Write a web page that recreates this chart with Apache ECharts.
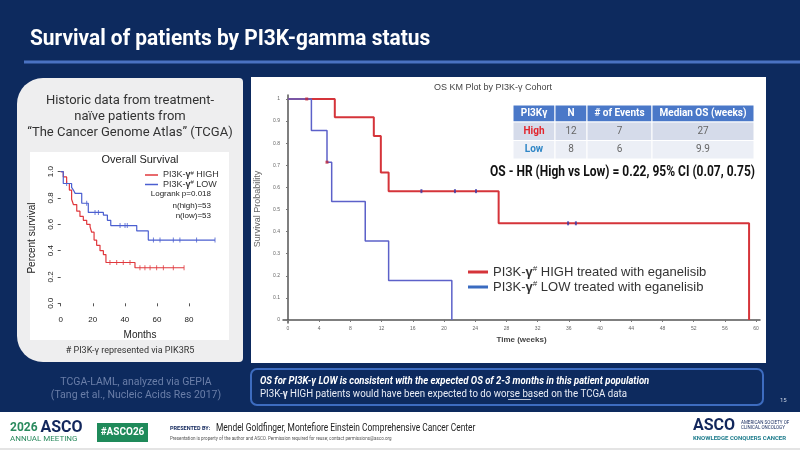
<!DOCTYPE html>
<html>
<head>
<meta charset="utf-8">
<script src="https://cdn.jsdelivr.net/npm/echarts@6/dist/echarts.min.js"></script>
<style>
  html, body { margin: 0; padding: 0; background: #0d2a5e; }
  #chart { width: 800px; height: 453px; }
</style>
</head>
<body>
<div id="chart"></div>
<script>
// eganelisib cohort, KM steps (weeks -> survival probability)
const highWeeks = [0, 6.0, 11.0, 11.9, 12.9, 27.0, 59.1]
const highSurv = [1, 0.917, 0.833, 0.667, 0.583, 0.4375, 0]
const lowWeeks = [0, 3.0, 5.0, 5.6, 9.9, 12.9, 21.0]
const lowSurv = [1, 0.857, 0.714, 0.536, 0.357, 0.179, 0]
// censor marks
const redMarkWeeks = [2.4, 5.0]
const redMarkSurv = [1, 0.714]
const blueMarkWeeks = [17.1, 21.4, 24.1, 35.9, 36.9]
const blueMarkSurv = [0.583, 0.583, 0.583, 0.4375, 0.4375]
const weekTicks = [0, 4, 8, 12, 16, 20, 24, 28, 32, 36, 40, 44, 48, 52, 56, 60]
const probTicks = [0, 0.1, 0.2, 0.3, 0.4, 0.5, 0.6, 0.7, 0.8, 0.9, 1]

// TCGA-LAML (GEPIA), months -> survival
const tcgaHighMonths = [0, 1.6, 3.7, 5.4, 6.8, 7.9, 10.0, 12.0, 14.1, 16.2, 18.3, 19.3, 20.8, 22.4, 24.5, 26.6, 28.2, 46.3, 76.9]
const tcgaHighSurv = [1, 0.96, 0.91, 0.86, 0.79, 0.75, 0.70, 0.66, 0.63, 0.60, 0.58, 0.54, 0.48, 0.44, 0.40, 0.37, 0.31, 0.27, 0.27]
const tcgaLowMonths = [0, 1.6, 6.8, 7.9, 9.0, 13.1, 17.2, 26.6, 29.1, 31.2, 47.4, 54.6, 96.2]
const tcgaLowSurv = [1, 0.91, 0.88, 0.86, 0.835, 0.76, 0.69, 0.67, 0.63, 0.59, 0.55, 0.48, 0.48]
const tcgaHighCensorMonths = [30.7, 34.9, 39.0, 43.2, 49.4, 52.5, 55.7, 59.8, 64.0, 70.2, 76.9]
const tcgaHighCensorSurv = [0.31, 0.31, 0.31, 0.31, 0.27, 0.27, 0.27, 0.27, 0.27, 0.27, 0.27]
const tcgaLowCensorMonths = [3.7, 16.2, 21.4, 23.5, 37.0, 40.1, 41.5, 57.8, 61.9, 70.2, 74.3, 84.7, 96.2]
const tcgaLowCensorSurv = [0.91, 0.76, 0.69, 0.69, 0.59, 0.59, 0.59, 0.48, 0.48, 0.48, 0.48, 0.48, 0.48]
const monthTicks = [0, 20, 40, 60, 80]
const pctTicks = [0, 0.2, 0.4, 0.6, 0.8, 1]

// summary table
const tableHead = ['PI3Kγ', 'N', '# of Events', 'Median OS (weeks)']
const tableRows = [
  ['High', '12', '7', '27'],
  ['Low', '8', '6', '9.9']
]

const NAVY = '#0d2a5e'
const SLIDE_FONT = 'Roboto, sans-serif'

function pairs(xs, ys) {
  return xs.map((x, i) => [x, ys[i]])
}

// table as graphic elements
function tableGraphic() {
  const colX = [513, 555, 587, 652, 754]
  const rowY = [105, 122, 140.5, 159]
  const fills = ['#4a78c8', '#d5dbea', '#eceff6']
  const out = []
  for (let r = 0; r < 3; r++) {
    for (let c = 0; c < 4; c++) {
      out.push({
        type: 'rect',
        shape: { x: colX[c], y: rowY[r], width: colX[c + 1] - colX[c], height: rowY[r + 1] - rowY[r] },
        style: { fill: fills[r], stroke: '#ffffff', lineWidth: 1 }
      })
      let txt, color, weight
      if (r === 0) {
        txt = tableHead[c]; color = '#ffffff'; weight = 'bold'
      } else {
        txt = tableRows[r - 1][c]
        color = c === 0 ? (r === 1 ? '#e2262e' : '#2f86c6') : '#666'
        weight = c === 0 ? 'bold' : 'normal'
      }
      out.push({
        type: 'text',
        x: (colX[c] + colX[c + 1]) / 2,
        y: (rowY[r] + rowY[r + 1]) / 2,
        style: { text: txt, fill: color, font: weight + ' 10px Roboto', align: 'center', verticalAlign: 'middle' }
      })
    }
  }
  return out
}

const chart = echarts.init(document.getElementById('chart'))

const legendRich = {
  n: { fontSize: 13, fontFamily: 'Liberation Sans', color: '#333' },
  g: { fontSize: 13, fontWeight: 'bold', fontFamily: 'Liberation Sans', color: '#333' },
  s: { fontSize: 8, fontFamily: 'Liberation Sans', color: '#333', verticalAlign: 'top', padding: [0, 0, 6, 0] }
}
const smallRich = {
  n: { fontSize: 9, fontFamily: 'Liberation Sans', color: '#333' },
  g: { fontSize: 9, fontWeight: 'bold', fontFamily: 'Liberation Sans', color: '#333' },
  s: { fontSize: 6, fontFamily: 'Liberation Sans', color: '#333', padding: [0, 0, 4, 0] }
}
function legendText(name) {
  // "PI3K-γ# HIGH ..." -> rich text with bold gamma and superscript #
  const rest = name.replace('PI3K-γ#', '')
  return '{n|PI3K-}{g|γ}{s|#}{n|' + rest + '}'
}

chart.setOption({
  animation: false,
  backgroundColor: NAVY,
  graphic: [
    // slide header
    { type: 'text', x: 30, y: 39, scaleX: 0.95, style: { text: 'Survival of patients by PI3K-gamma status', fill: '#ffffff', font: 'bold 22px ' + SLIDE_FONT, verticalAlign: 'middle' } },
    { type: 'line', shape: { x1: 24, y1: 62, x2: 800, y2: 62 }, style: { stroke: '#4a72c2', lineWidth: 3 } },
    // left panel
    { type: 'rect', shape: { x: 17, y: 78, width: 226, height: 284, r: [26, 4, 4, 26] }, style: { fill: '#eeeeef' } },
    { type: 'text', x: 130, y: 101, style: { text: 'Historic data from treatment-', fill: '#333', font: '13px Roboto', align: 'center', verticalAlign: 'middle' } },
    { type: 'text', x: 130, y: 117, style: { text: 'naïve patients from', fill: '#333', font: '13px Roboto', align: 'center', verticalAlign: 'middle' } },
    { type: 'text', x: 130, y: 133, style: { text: '“The Cancer Genome Atlas” (TCGA)', fill: '#333', font: '13px Roboto', align: 'center', verticalAlign: 'middle' } },
    { type: 'rect', shape: { x: 30, y: 152, width: 199, height: 188 }, style: { fill: '#ffffff' } },
    { type: 'text', x: 130, y: 351, style: { text: '# PI3K-γ represented via PIK3R5', fill: '#333', font: '9px Roboto', align: 'center', verticalAlign: 'middle' } },
    { type: 'text', x: 140, y: 160, style: { text: 'Overall Survival', fill: '#222', font: '11px Liberation Sans', align: 'center', verticalAlign: 'middle' } },
    { type: 'text', x: 211, y: 194, style: { text: 'Logrank p=0.018', fill: '#222', font: '8px Liberation Sans', align: 'right', verticalAlign: 'middle' } },
    { type: 'text', x: 211, y: 205.5, style: { text: 'n(high)=53', fill: '#222', font: '8px Liberation Sans', align: 'right', verticalAlign: 'middle' } },
    { type: 'text', x: 211, y: 216, style: { text: 'n(low)=53', fill: '#222', font: '8px Liberation Sans', align: 'right', verticalAlign: 'middle' } },
    // right panel
    { type: 'rect', shape: { x: 251, y: 77, width: 515, height: 286 }, style: { fill: '#ffffff' } },
    { type: 'text', x: 493, y: 88, style: { text: 'OS KM Plot by PI3K-γ Cohort', fill: '#444', font: '9px Liberation Sans', align: 'center', verticalAlign: 'middle' } },
    ...tableGraphic(),
    { type: 'text', x: 755, y: 172, scaleX: 0.8, style: { text: 'OS - HR (High vs Low) = 0.22, 95% CI (0.07, 0.75)', fill: '#111', font: 'bold 15px ' + SLIDE_FONT, align: 'right', verticalAlign: 'middle' } },
    // sources
    { type: 'text', x: 136, y: 382, style: { text: 'TCGA-LAML, analyzed via GEPIA', fill: '#6a7ea8', font: '10.5px ' + SLIDE_FONT, align: 'center', verticalAlign: 'middle' } },
    { type: 'text', x: 136, y: 395, style: { text: '(Tang et al., Nucleic Acids Res 2017)', fill: '#6a7ea8', font: '10.5px ' + SLIDE_FONT, align: 'center', verticalAlign: 'middle' } },
    // callout
    { type: 'rect', shape: { x: 251, y: 369, width: 512, height: 36, r: 6 }, style: { fill: 'transparent', stroke: '#3d6cc0', lineWidth: 2 } },
    { type: 'text', x: 260, y: 381, scaleX: 0.95, style: { text: 'OS for PI3K-γ LOW is consistent with the expected OS of 2-3 months in this patient population', fill: '#ffffff', font: 'italic bold 10px ' + SLIDE_FONT, verticalAlign: 'middle' } },
    { type: 'text', x: 260, y: 394, scaleX: 0.97, style: {
      text: '{a|PI3K-}{b|γ}{a| HIGH patients would have been expected to do worse based on the TCGA data}',
      verticalAlign: 'middle',
      rich: {
        a: { fill: '#e8ecf5', font: '10px ' + SLIDE_FONT },
        b: { fill: '#e8ecf5', font: 'bold 10px ' + SLIDE_FONT }
      }
    } },
    // underline under "worse"
    { type: 'line', shape: { x1: 508, y1: 399.5, x2: 531, y2: 399.5 }, style: { stroke: '#e8ecf5', lineWidth: 0.8 } },
    { type: 'text', x: 780, y: 400, style: { text: '15', fill: '#c8d0e0', font: '6px Roboto', verticalAlign: 'middle' } },
    // footer
    { type: 'rect', shape: { x: 0, y: 412, width: 800, height: 41 }, style: { fill: '#ffffff' } },
    { type: 'line', shape: { x1: 0, y1: 449, x2: 800, y2: 449 }, style: { stroke: '#c9c9c9', lineWidth: 1 } },
    { type: 'text', x: 10, y: 428, style: { text: '{g|2026 }{b|ASCO}', verticalAlign: 'middle', rich: { g: { fill: '#2a8a5e', font: 'bold 12px Roboto' }, b: { fill: '#12275c', font: 'bold 16px Roboto' } } } },
    { type: 'text', x: 10, y: 438.5, style: { text: 'ANNUAL MEETING', fill: '#2a8a5e', font: '8px Roboto', verticalAlign: 'middle' } },
    { type: 'rect', shape: { x: 97, y: 423, width: 51, height: 19 }, style: { fill: '#1f8a5a' } },
    { type: 'text', x: 122.5, y: 432.5, style: { text: '#ASCO26', fill: '#ffffff', font: 'bold 10px Roboto', align: 'center', verticalAlign: 'middle' } },
    { type: 'text', x: 170, y: 429, style: { text: 'PRESENTED BY:', fill: '#12275c', font: 'bold 5.5px Roboto', verticalAlign: 'middle' } },
    { type: 'text', x: 216, y: 428, scaleX: 0.84, style: { text: 'Mendel Goldfinger, Montefiore Einstein Comprehensive Cancer Center', fill: '#222', font: '10px ' + SLIDE_FONT, verticalAlign: 'middle' } },
    { type: 'text', x: 170, y: 439, style: { text: 'Presentation is property of the author and ASCO. Permission required for reuse; contact permissions@asco.org', fill: '#555', font: '4.5px Roboto', verticalAlign: 'middle' } },
    { type: 'text', x: 693, y: 426, style: { text: 'ASCO', fill: '#12275c', font: 'bold 16px Roboto', verticalAlign: 'middle' } },
    { type: 'text', x: 741, y: 423, style: { text: 'AMERICAN SOCIETY OF', fill: '#12275c', font: '4.5px Roboto', verticalAlign: 'middle' } },
    { type: 'text', x: 741, y: 428, style: { text: 'CLINICAL ONCOLOGY', fill: '#12275c', font: '4.5px Roboto', verticalAlign: 'middle' } },
    { type: 'text', x: 693, y: 438, style: { text: 'KNOWLEDGE CONQUERS CANCER', fill: '#1e7c8c', font: 'bold 6px Roboto', verticalAlign: 'middle' } }
  ],
  legend: [
    {
      data: ['PI3K-γ# HIGH treated with eganelisib', 'PI3K-γ# LOW treated with eganelisib'],
      orient: 'vertical',
      left: 463,
      top: 260,
      itemWidth: 20,
      itemHeight: 3,
      itemGap: 1,
      icon: 'rect',
      selectedMode: false,
      formatter: legendText,
      textStyle: { rich: legendRich, lineHeight: 14 }
    },
    {
      data: ['PI3K-γ# HIGH', 'PI3K-γ# LOW'],
      orient: 'vertical',
      left: 140,
      top: 165,
      itemWidth: 13,
      itemHeight: 1.5,
      itemGap: 0,
      icon: 'rect',
      selectedMode: false,
      formatter: legendText,
      textStyle: { rich: smallRich, lineHeight: 9 }
    }
  ],
  grid: [
    { left: 283, top: 95, width: 477, height: 228, show: true, borderColor: '#aaaaaa', borderWidth: 1, backgroundColor: 'transparent' },
    { left: 60, top: 164, width: 160, height: 148, show: true, borderColor: '#555555', borderWidth: 1, backgroundColor: 'transparent' }
  ],
  xAxis: [
    {
      gridIndex: 0, type: 'value', min: -0.64, max: 60.5,
      name: 'Time (weeks)', nameLocation: 'middle', nameGap: 13,
      nameTextStyle: { fontSize: 8, fontWeight: 'bold', color: '#444', fontFamily: 'Liberation Sans' },
      axisLine: { show: true, lineStyle: { color: '#555', width: 1.5 } },
      axisTick: { show: true, length: 2, customValues: weekTicks, lineStyle: { color: '#777' } },
      axisLabel: { customValues: weekTicks, fontSize: 5, color: '#666', margin: 3 },
      splitLine: { show: false }
    },
    {
      gridIndex: 1, type: 'value', min: -0.44, max: 99.3,
      name: 'Months', nameLocation: 'middle', nameGap: 18,
      nameTextStyle: { fontSize: 10, color: '#222', fontFamily: 'Liberation Sans' },
      axisLine: { show: false },
      axisTick: { show: true, length: 3, inside: false, customValues: monthTicks, lineStyle: { color: '#555' } },
      axisLabel: { customValues: monthTicks, fontSize: 8, color: '#222', margin: 4, fontFamily: 'Liberation Sans' },
      splitLine: { show: false }
    }
  ],
  yAxis: [
    {
      gridIndex: 0, type: 'value', min: -0.0136, max: 1.018,
      name: 'Survival Probability', nameLocation: 'middle', nameGap: 15,
      nameTextStyle: { fontSize: 9, color: '#666', fontFamily: 'Liberation Sans' },
      axisLine: { show: true, lineStyle: { color: '#555', width: 1.5 } },
      axisTick: { show: true, length: 2, customValues: probTicks, lineStyle: { color: '#777' } },
      axisLabel: { customValues: probTicks, fontSize: 5, color: '#666', margin: 3, formatter: v => String(Math.round(v * 10) / 10) },
      splitLine: { show: false }
    },
    {
      gridIndex: 1, type: 'value', min: -0.066, max: 1.058,
      name: 'Percent survival', nameLocation: 'middle', nameGap: 23,
      nameTextStyle: { fontSize: 10, color: '#222', fontFamily: 'Liberation Sans' },
      axisLine: { show: false },
      axisTick: { show: true, length: 3, customValues: pctTicks, lineStyle: { color: '#555' } },
      axisLabel: { customValues: pctTicks, fontSize: 8, color: '#222', margin: 5, rotate: 90, fontFamily: 'Liberation Sans', formatter: v => v.toFixed(1) },
      splitLine: { show: false }
    }
  ],
  series: [
    {
      name: 'PI3K-γ# HIGH treated with eganelisib', type: 'line', step: 'end',
      xAxisIndex: 0, yAxisIndex: 0, data: pairs(highWeeks, highSurv),
      showSymbol: false, color: '#d5343a', lineStyle: { width: 2, color: '#d5343a' }, z: 3
    },
    {
      name: 'PI3K-γ# LOW treated with eganelisib', type: 'line', step: 'end',
      xAxisIndex: 0, yAxisIndex: 0, data: pairs(lowWeeks, lowSurv),
      showSymbol: false, color: '#3a6bc0', lineStyle: { width: 1.5, color: '#5c61c9' }, z: 3
    },
    {
      name: 'censor-red', type: 'scatter', xAxisIndex: 0, yAxisIndex: 0,
      data: pairs(redMarkWeeks, redMarkSurv), symbol: 'rect', symbolSize: [3, 3],
      itemStyle: { color: '#c0283a' }, z: 4
    },
    {
      name: 'censor-blue', type: 'scatter', xAxisIndex: 0, yAxisIndex: 0,
      data: pairs(blueMarkWeeks, blueMarkSurv), symbol: 'rect', symbolSize: [2, 4],
      itemStyle: { color: '#3a3aa8' }, z: 4
    },
    {
      name: 'PI3K-γ# HIGH', type: 'line', step: 'end',
      xAxisIndex: 1, yAxisIndex: 1, data: pairs(tcgaHighMonths, tcgaHighSurv),
      showSymbol: false, color: '#e0383d', lineStyle: { width: 1.2, color: '#e0383d' }
    },
    {
      name: 'PI3K-γ# LOW', type: 'line', step: 'end',
      xAxisIndex: 1, yAxisIndex: 1, data: pairs(tcgaLowMonths, tcgaLowSurv),
      showSymbol: false, color: '#4b5fd0', lineStyle: { width: 1.2, color: '#4b5fd0' }
    },
    {
      name: 'tcga-high-censor', type: 'scatter', xAxisIndex: 1, yAxisIndex: 1,
      data: pairs(tcgaHighCensorMonths, tcgaHighCensorSurv), symbol: 'rect', symbolSize: [1, 5],
      itemStyle: { color: '#e0383d' }
    },
    {
      name: 'tcga-low-censor', type: 'scatter', xAxisIndex: 1, yAxisIndex: 1,
      data: pairs(tcgaLowCensorMonths, tcgaLowCensorSurv), symbol: 'rect', symbolSize: [1, 5],
      itemStyle: { color: '#4b5fd0' }
    }
  ]
})
</script>
</body>
</html>
